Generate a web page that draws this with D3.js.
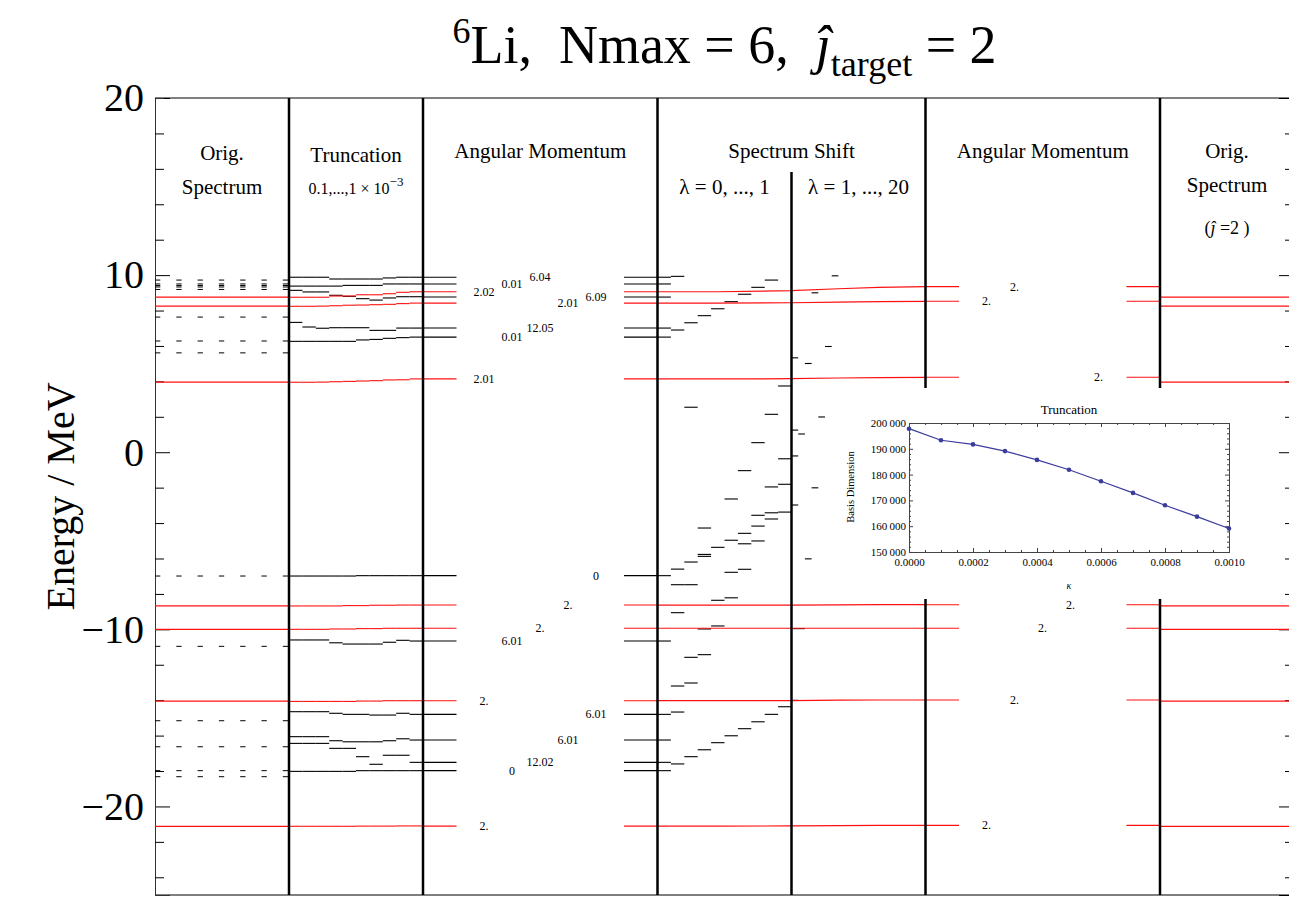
<!DOCTYPE html>
<html>
<head>
<meta charset="utf-8">
<script src="https://cdn.jsdelivr.net/npm/d3@7"></script>
<style>
  body { margin: 0; background: #fff; }
  svg { display: block; }
  svg text { font-family: "Liberation Serif", "Times New Roman", serif !important; fill: #000; }
</style>
</head>
<body>
<svg id="chart" width="1289" height="903" font-family="Liberation Serif"></svg>
<script>
// ---------------------------------------------------------------
// Energy axis ticks
const majorTicks = [-20, -10, 0, 10, 20];
const minorTicks = [-24, -22, -18, -16, -14, -12, -8, -6, -4, -2, 2, 4, 6, 8, 12, 14, 16, 18];

// Original spectrum (MeV): all levels (dashed) and the j = 2 levels (red)
const origLevels = [9.72, 9.50, 9.41, 9.33, 9.19, 7.63, 6.28, 5.61, -6.99, -10.96, -15.16, -16.63, -17.98, -18.32];
const origTargetLevels = [8.76, 8.25, 3.96, -8.68, -10.0, -14.05, -21.12];

// Truncation 0.1,...,1 x 10^-3 : one energy per truncation step
const truncLevels = [
  [9.88, 9.88, 9.88, 9.78, 9.78, 9.78, 9.78, 9.84, 9.88, 9.88],
  [9.38, 9.38, 9.38, 9.38, 9.42, 9.42, 9.42, 9.50, 9.50, 9.50],
  [9.14, 9.05, 9.05, 8.86, 8.80, 8.67, 8.59, 8.71, 8.78, 8.78],
  [7.33, 7.07, 7.00, 7.03, 7.03, 7.03, 6.88, 6.88, 7.01, 7.01],
  [6.26, 6.26, 6.26, 6.26, 6.26, 6.34, 6.37, 6.43, 6.47, 6.50],
  [-6.99, -6.99, -6.99, -6.99, -6.99, -6.97, -6.97, -6.97, -6.97, -6.97],
  [-10.60, -10.60, -10.60, -10.76, -10.83, -10.83, -10.83, -10.73, -10.62, -10.66],
  [-14.65, -14.65, -14.65, -14.74, -14.80, -14.80, -14.84, -14.84, -14.74, -14.80],
  [-16.06, -16.06, -16.06, -16.29, -16.35, -16.35, -16.35, -16.29, -16.18, -16.25],
  [-16.44, -16.44, -16.44, -16.72, -16.72, -17.19, -17.62, -17.11, -17.11, -17.51],
  [-18.02, -18.02, -18.02, -18.02, -18.02, -17.98, -17.98, -17.98, -17.98, -17.98]
];
const truncTargetLevels = [
  [8.75, 8.75, 8.75, 8.82, 8.82, 8.89, 8.89, 8.95, 9.03, 9.06],
  [8.24, 8.24, 8.25, 8.27, 8.30, 8.31, 8.33, 8.35, 8.39, 8.42],
  [3.95, 3.95, 3.96, 3.98, 4.00, 4.02, 4.04, 4.08, 4.09, 4.14],
  [-8.68, -8.68, -8.68, -8.68, -8.66, -8.66, -8.64, -8.64, -8.63, -8.63],
  [-10.0, -10.0, -10.0, -9.98, -9.98, -9.96, -9.96, -9.94, -9.94, -9.94],
  [-14.07, -14.07, -14.07, -14.07, -14.07, -14.05, -14.05, -14.03, -14.03, -14.03],
  [-21.12, -21.12, -21.12, -21.12, -21.12, -21.11, -21.11, -21.11, -21.10, -21.10]
];

// Angular momentum <J^2> after truncation
const amLevels = [-21.11, -17.98, -17.51, -16.25, -14.80, -14.03, -10.66, -9.94, -8.63, -6.97,
                  4.14, 6.50, 7.01, 8.42, 8.76, 9.06, 9.50, 9.88];
const amLabels = ["2.", "0", "12.02", "6.01", "6.01", "2.", "6.01", "2.", "2.", "0",
                  "2.01", "0.01", "12.05", "2.01", "6.09", "2.02", "0.01", "6.04"];

// Spectrum shift, lambda = 0, ..., 1 : [step, energy]
const shiftLowSteps = [
  [0, 9.88], [0, 9.50], [0, 8.76], [0, 7.01], [0, 6.50], [0, -6.97], [0, -10.66], [0, -14.80], [0, -16.25], [0, -17.51], [0, -17.98],
  [1, 9.93], [1, 6.90], [1, -6.60], [1, -7.48], [1, -9.06], [1, -13.20], [1, -14.67], [1, -17.60],
  [2, 7.31], [2, 2.54], [2, -6.20], [2, -7.48], [2, -11.58], [2, -13.03], [2, -17.19],
  [3, 7.71], [3, -4.28], [3, -5.77], [3, -5.88], [3, -9.98], [3, -11.43], [3, -16.80],
  [4, 8.10], [4, -5.37], [4, -8.36], [4, -9.81], [4, -16.40],
  [5, 8.50], [5, -2.64], [5, -4.97], [5, -6.78], [5, -8.22], [5, -16.01],
  [6, 8.92], [6, -1.04], [6, -4.58], [6, -5.17], [6, -6.61], [6, -15.61],
  [7, 9.31], [7, 0.54], [7, -3.56], [7, -4.17], [7, -5.01], [7, -15.22],
  [8, 9.72], [8, 2.14], [8, -1.96], [8, -3.42], [8, -3.77], [8, -14.80],
  [9, 3.74], [9, -0.37], [9, -1.81], [9, -3.38], [9, -14.37]
];
// Spectrum shift, lambda = 1, ..., 20 : [step, energy]
const shiftHighSteps = [
  [0, 5.33], [0, 1.25], [0, -0.21], [0, -2.98], [0, -9.96], [0, -14.01],
  [1, 1.03], [1, -9.96],
  [2, 5.01], [2, -6.02],
  [3, 9.00], [3, -2.01],
  [4, 1.99],
  [5, 5.97],
  [6, 9.96]
];
// j = 2 levels across the spectrum shift: energies at lambda positions
const shiftTargetX = [3.75, 4.2, 4.75, 5.1, 5.4, 5.75];
const shiftTargetLevels = [
  [9.06, 9.06, 9.12, 9.23, 9.31, 9.35],
  [8.42, 8.42, 8.44, 8.48, 8.50, 8.52],
  [4.14, 4.14, 4.15, 4.19, 4.21, 4.23],
  [-8.63, -8.63, -8.63, -8.62, -8.61, -8.61],
  [-9.94, -9.94, -9.94, -9.94, -9.94, -9.94],
  [-14.03, -14.03, -14.02, -14.00, -13.99, -13.99],
  [-21.11, -21.11, -21.10, -21.08, -21.07, -21.07]
];

// Angular momentum after the spectrum shift
const amShiftLevels = [-21.07, -13.99, -9.94, -8.61, 4.23, 8.52, 9.35];
const amShiftLabels = ["2.", "2.", "2.", "2.", "2.", "2.", "2."];

// Inset: basis dimension versus truncation parameter kappa
const kappa = [0, 0.0001, 0.0002, 0.0003, 0.0004, 0.0005, 0.0006, 0.0007, 0.0008, 0.0009, 0.001];
const basisDim = [197800, 193300, 191700, 189100, 185700, 181900, 177400, 172900, 168100, 163700, 159100];
const kappaTicks = [0, 0.0002, 0.0004, 0.0006, 0.0008, 0.001];
const dimTicks = [150000, 160000, 170000, 180000, 190000, 200000];
const minorK = [0.00005, 0.0001, 0.00015, 0.00025, 0.0003, 0.00035, 0.00045, 0.0005, 0.00055, 0.00065, 0.0007, 0.00075, 0.00085, 0.0009, 0.00095];
const minorD = [152000, 154000, 156000, 158000, 162000, 164000, 166000, 168000, 172000, 174000, 176000, 178000, 182000, 184000, 186000, 188000, 192000, 194000, 196000, 198000];

// ---------------------------------------------------------------
const FONT = "Liberation Serif, Times New Roman, serif";
const svg = d3.select("#chart");
const RED = "#ff1010";

// panel coordinates: one unit per column of width 1
const x = d3.scaleLinear().domain([0, 8.5]).range([155, 1294]);
const y = d3.scaleLinear().domain([-25, 20]).range([895, 98]);

const hseg = (g, x0, x1, e, color, w, dash) => g.append("line")
  .attr("x1", x(x0)).attr("x2", x(x1)).attr("y1", y(e)).attr("y2", y(e))
  .attr("stroke", color).attr("stroke-width", w)
  .attr("stroke-dasharray", dash || null);

const txt = (g) => g.append("text").attr("font-family", FONT);

// ----- frame and axes
const frame = svg.append("g");
frame.append("line").attr("x1", x(0)).attr("x2", x(8.5)).attr("y1", y(20)).attr("y2", y(20))
  .attr("stroke", "#000").attr("stroke-width", 1);
frame.append("line").attr("x1", x(0)).attr("x2", x(8.5)).attr("y1", y(-25)).attr("y2", y(-25))
  .attr("stroke", "#000").attr("stroke-width", 1);

const leftAxis = svg.append("g").attr("transform", `translate(${x(0)},0)`);
leftAxis.call(d3.axisLeft(y).tickValues(majorTicks).tickSize(-15).tickPadding(11).tickFormat(d3.format("d")));
leftAxis.append("g").call(d3.axisLeft(y).tickValues(minorTicks).tickSize(-9).tickFormat(""));
leftAxis.selectAll(".domain").attr("stroke", "#333");
leftAxis.attr("font-family", FONT);
leftAxis.selectAll("text").attr("font-size", 40).attr("font-family", FONT);

const rightAxis = svg.append("g").attr("transform", `translate(${x(8.5)},0)`);
rightAxis.call(d3.axisRight(y).tickValues(majorTicks).tickSize(-15).tickFormat(""));
rightAxis.append("g").call(d3.axisRight(y).tickValues(minorTicks).tickSize(-9).tickFormat(""));

txt(svg)
  .attr("transform", `translate(60,${(y(20) + y(-25)) / 2}) rotate(-90)`)
  .attr("text-anchor", "middle").attr("dominant-baseline", "central")
  .attr("font-size", 40).text("Energy / MeV");

// ----- title
const title = txt(svg).attr("x", x(4.25)).attr("y", 63)
  .attr("text-anchor", "middle").attr("font-size", 54).style("white-space", "pre");
title.append("tspan").attr("font-size", 36).attr("dy", -20).text("6");
title.append("tspan").attr("dy", 20).text("Li,  Nmax = 6,  ");
title.append("tspan").attr("font-style", "italic").text("\u0135");
title.append("tspan").attr("font-size", 36).attr("dy", 13).text("target");
title.append("tspan").attr("dy", -13).text(" = 2");

// ----- panel 1: original spectrum
const p1 = svg.append("g");
origLevels.forEach(e => hseg(p1, 0, 1, e, "#000", 1, "5.3,16"));
origTargetLevels.forEach(e => hseg(p1, 0, 1, e, RED, 1.2));

// ----- panel 2: truncation steps
const p2 = svg.append("g");
const steps = (g, levels, x0, width, color) => levels.forEach(row =>
  row.forEach((e, i) => hseg(g, x0 + i * width, x0 + (i + 1) * width, e, color, 1.1)));
steps(p2, truncLevels, 1, 0.1, "#000");
steps(p2, truncTargetLevels, 1, 0.1, RED);

// ----- panel 3: angular momentum with <J^2> labels
const p3 = svg.append("g");
const slotX = (x0, k) => x0 + 0.455 + k * 0.209;
const isTarget = lab => Math.round(+lab) === 2;
amLevels.forEach((e, i) => {
  const c = isTarget(amLabels[i]) ? RED : "#000";
  hseg(p3, 2, 2.25, e, c, 1.1);
  hseg(p3, 3.5, 3.75, e, c, 1.1);
  txt(p3).attr("x", x(slotX(2, i % 5))).attr("y", y(e))
    .attr("text-anchor", "middle").attr("dominant-baseline", "central")
    .attr("font-size", 12).text(amLabels[i]);
});

// ----- panel 4: spectrum shift
const p4 = svg.append("g");
shiftLowSteps.forEach(([k, e]) => hseg(p4, 3.75 + k * 0.1, 3.75 + (k + 1) * 0.1, e, "#000", 1.1));
shiftHighSteps.forEach(([k, e]) => hseg(p4, 4.75 + k * 0.05, 4.75 + (k + 1) * 0.05, e, "#000", 1.1));
const redLine = d3.line().x((d, i) => x(shiftTargetX[i])).y(d => y(d));
shiftTargetLevels.forEach(row => p4.append("path").attr("d", redLine(row))
  .attr("fill", "none").attr("stroke", RED).attr("stroke-width", 1.2));

// ----- panel 5: angular momentum after shift
const p5 = svg.append("g");
amShiftLevels.forEach((e, i) => {
  hseg(p5, 5.75, 6.0, e, RED, 1.1);
  hseg(p5, 7.25, 7.5, e, RED, 1.1);
  txt(p5).attr("x", x(slotX(5.75, i % 5))).attr("y", y(e))
    .attr("text-anchor", "middle").attr("dominant-baseline", "central")
    .attr("font-size", 12).text(amShiftLabels[i]);
});

// ----- panel 6: original j = 2 spectrum
const p6 = svg.append("g");
origTargetLevels.forEach(e => hseg(p6, 7.5, 8.5, e, RED, 1.2));

// ----- panel dividers
const dividers = svg.append("g").attr("stroke", "#000").attr("stroke-width", 2.5);
[1, 2, 3.75, 5.75, 7.5].forEach(u => dividers.append("line")
  .attr("x1", x(u)).attr("x2", x(u)).attr("y1", y(20)).attr("y2", y(-25)));
dividers.append("line").attr("x1", x(4.75)).attr("x2", x(4.75)).attr("y1", 172).attr("y2", y(-25));

// ----- panel headings
const head = svg.append("g").attr("text-anchor", "middle");
const headText = (u, yy, s, size) => txt(head).attr("x", x(u)).attr("y", yy)
  .attr("dominant-baseline", "central").attr("font-size", size || 21).text(s);
headText(0.5, 153, "Orig.");
headText(0.5, 187, "Spectrum");
headText(1.5, 155, "Truncation");
const tr = txt(head).attr("x", x(1.5)).attr("y", 194).attr("font-size", 16);
tr.append("tspan").text("0.1,...,1 \u00d7 10");
tr.append("tspan").attr("dy", -8).attr("font-size", 13).text("\u22123");
headText(2.875, 151, "Angular Momentum");
headText(4.75, 151, "Spectrum Shift");
headText(4.25, 187, "\u03bb = 0, ..., 1");
headText(5.25, 187, "\u03bb = 1, ..., 20");
headText(6.625, 151, "Angular Momentum");
headText(8.0, 151, "Orig.");
headText(8.0, 185, "Spectrum");
const jh = txt(head).attr("x", x(8.0)).attr("y", 228).attr("dominant-baseline", "central")
  .attr("font-size", 18).style("white-space", "pre");
jh.append("tspan").text("(");
jh.append("tspan").attr("font-style", "italic").text("\u0135");
jh.append("tspan").text(" =2 )");

// ----- inset: truncation basis dimension
const inset = svg.append("g");
inset.append("rect").attr("x", 840).attr("y", 388).attr("width", 410).attr("height", 211).attr("fill", "#fff");
const ix = d3.scaleLinear().domain([0, 0.001]).range([909, 1229]);
const iy = d3.scaleLinear().domain([150000, 200000]).range([552, 423]);
const fmtDim = d => d3.format(",")(d).replace(",", "\u2009");
inset.append("g").attr("transform", "translate(0,552)")
  .call(d3.axisBottom(ix).tickValues(kappaTicks).tickSize(-4).tickPadding(6).tickFormat(d3.format(".4f")));
inset.append("g").attr("transform", "translate(909,0)")
  .call(d3.axisLeft(iy).tickValues(dimTicks).tickSize(-4).tickPadding(3).tickFormat(fmtDim));
inset.append("g").attr("transform", "translate(0,423)")
  .call(d3.axisTop(ix).tickValues(kappaTicks).tickSize(-4).tickFormat(""));
inset.append("g").attr("transform", "translate(1229,0)")
  .call(d3.axisRight(iy).tickValues(dimTicks).tickSize(-4).tickFormat(""));
inset.append("g").attr("transform", "translate(0,552)").call(d3.axisBottom(ix).tickValues(minorK).tickSize(-2).tickFormat(""));
inset.append("g").attr("transform", "translate(0,423)").call(d3.axisTop(ix).tickValues(minorK).tickSize(-2).tickFormat(""));
inset.append("g").attr("transform", "translate(909,0)").call(d3.axisLeft(iy).tickValues(minorD).tickSize(-2).tickFormat(""));
inset.append("g").attr("transform", "translate(1229,0)").call(d3.axisRight(iy).tickValues(minorD).tickSize(-2).tickFormat(""));
inset.selectAll(".domain").attr("stroke", "#444");
inset.selectAll(".tick line").attr("stroke", "#444");
inset.selectAll(".tick text").attr("font-size", 11).attr("font-family", FONT);
inset.append("path").attr("d", d3.line().x((d, i) => ix(kappa[i])).y(d => iy(d))(basisDim))
  .attr("fill", "none").attr("stroke", "#3b3b9e").attr("stroke-width", 1.2);
inset.selectAll("circle.pt").data(basisDim).join("circle").attr("class", "pt")
  .attr("cx", (d, i) => ix(kappa[i])).attr("cy", d => iy(d)).attr("r", 2.3).attr("fill", "#3b3b9e");
txt(inset).attr("x", 1069).attr("y", 409).attr("text-anchor", "middle")
  .attr("dominant-baseline", "central").attr("font-size", 13).text("Truncation");
txt(inset).attr("transform", "translate(850,487) rotate(-90)").attr("text-anchor", "middle")
  .attr("dominant-baseline", "central").attr("font-size", 10.5).text("Basis Dimension");
txt(inset).attr("x", 1069).attr("y", 585).attr("text-anchor", "middle")
  .attr("dominant-baseline", "central").attr("font-size", 10).attr("font-style", "italic").text("\u03ba");
</script>
</body>
</html>
